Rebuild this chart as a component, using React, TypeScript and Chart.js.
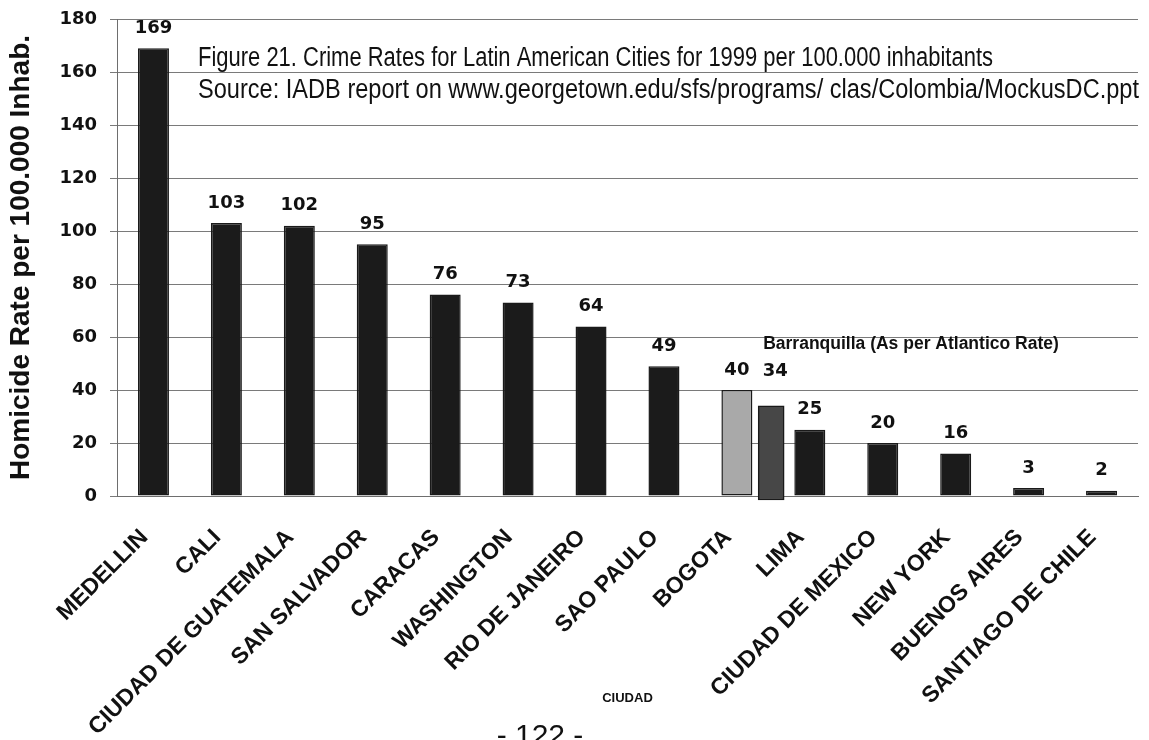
import { useEffect, useRef } from "react";
import { Chart, registerables } from "chart.js";

Chart.register(...registerables);

// Homicide rates per 100.000 inhabitants, 1999
const cities = [
  "MEDELLIN",
  "CALI",
  "CIUDAD DE GUATEMALA",
  "SAN SALVADOR",
  "CARACAS",
  "WASHINGTON",
  "RIO DE JANEIRO",
  "SAO PAULO",
  "BOGOTA",
  "LIMA",
  "CIUDAD DE MEXICO",
  "NEW YORK",
  "BUENOS AIRES",
  "SANTIAGO DE CHILE",
];
const homicideRates = [169, 103, 102, 95, 76, 73, 64, 49, 40, 25, 20, 16, 3, 2];

// Extra bar squeezed in between BOGOTA and LIMA
const barranquillaLabel = "Barranquilla (As per Atlantico Rate)";
const barranquillaRate = 34;
const barranquillaSlot = 8.47; // position on the category index scale
const barranquillaBase = -1.5;

const yMin = 0;
const yMax = 180;
const yStep = 20;

const figureTitle =
  "Figure 21. Crime Rates for Latin American Cities for 1999 per 100.000 inhabitants";
const sourceLine =
  "Source: IADB report on www.georgetown.edu/sfs/programs/ clas/Colombia/MockusDC.ppt";
const pageNumber = "- 122 -";

const SANS = "'Liberation Sans', Arial, Helvetica, sans-serif";
const WIDE = "'DejaVu Sans', 'Liberation Sans', Arial, sans-serif";

const barFill = "#1b1b1b";
const bogotaFill = "#a9a9a9";
const barranquillaFill = "#474747";

const whiteBackground = {
  id: "whiteBackground",
  beforeDraw(chart: any) {
    const { ctx, width, height } = chart;
    ctx.save();
    ctx.fillStyle = "#ffffff";
    ctx.fillRect(0, 0, width, height);
    ctx.restore();
  },
};

const annotations = {
  id: "annotations",
  afterDatasetsDraw(chart: any) {
    const { ctx } = chart;
    ctx.save();
    ctx.fillStyle = "#111111";

    // value labels above each bar
    ctx.font = `bold 18px ${WIDE}`;
    ctx.textAlign = "center";
    ctx.textBaseline = "middle";
    const main = chart.getDatasetMeta(0);
    main.data.forEach((bar: any, i: number) => {
      ctx.fillText(String(homicideRates[i]), bar.x, bar.y - 20);
    });

    // Barranquilla value shares the row of the BOGOTA label
    const bq = chart.getDatasetMeta(1).data[0];
    const bogota = main.data[cities.indexOf("BOGOTA")];
    const rowY = Math.min(bq.y, bogota.y) - 19;
    ctx.fillText(String(barranquillaRate), bq.x + 4, rowY);

    ctx.font = `bold 17.5px ${SANS}`;
    ctx.textAlign = "left";
    ctx.fillText(barranquillaLabel, bq.x - 8, rowY - 27);

    // caption and source, condensed to their line widths
    ctx.textBaseline = "alphabetic";
    ctx.font = `27px ${SANS}`;
    ctx.fillText(figureTitle, 198, 66, 795);
    ctx.fillText(sourceLine, 198, 98, 941);

    // page number at the foot
    ctx.font = `30px ${SANS}`;
    ctx.textAlign = "center";
    ctx.fillText(pageNumber, 540, 745);
    ctx.restore();
  },
};

export default function App() {
  const canvasRef = useRef<HTMLCanvasElement | null>(null);

  useEffect(() => {
    const canvas = canvasRef.current;
    if (!canvas) return;

    const chart = new Chart(canvas, {
      type: "bar",
      data: {
        labels: cities,
        datasets: [
          {
            data: homicideRates,
            xAxisID: "x",
            yAxisID: "y",
            grouped: false,
            backgroundColor: cities.map((c) => (c === "BOGOTA" ? bogotaFill : barFill)),
            borderColor: "#1a1a1a",
            borderWidth: 1.5,
            borderSkipped: false,
            categoryPercentage: 1,
            barPercentage: 0.425,
          },
          {
            data: [{ x: barranquillaSlot, y: [barranquillaBase, barranquillaRate] }] as any,
            xAxisID: "xb",
            yAxisID: "y",
            grouped: false,
            backgroundColor: barranquillaFill,
            borderColor: "#1a1a1a",
            borderWidth: 1.5,
            borderSkipped: false,
            barThickness: 26,
            clip: false as any,
          },
        ],
      },
      options: {
        responsive: false,
        animation: false,
        layout: { padding: { top: 19, right: 11, left: 0, bottom: 0 } },
        plugins: {
          legend: { display: false },
          tooltip: { enabled: false },
        },
        scales: {
          x: {
            type: "category",
            offset: true,
            grid: { display: false },
            border: { display: true, color: "#6e6e6e", width: 1 },
            ticks: {
              autoSkip: false,
              minRotation: 45,
              maxRotation: 45,
              color: "#111111",
              padding: 20,
              labelOffset: -9,
              font: { family: SANS, size: 23, weight: "bold" },
            },
            title: {
              display: true,
              text: "CIUDAD",
              color: "#111111",
              font: { family: SANS, size: 13, weight: "bold", lineHeight: 1.2 },
              padding: { top: 0, bottom: 34 },
            },
            afterFit(scale: any) {
              scale.height = 244;
            },
          },
          xb: {
            type: "linear",
            axis: "x",
            display: false,
            min: -0.5,
            max: 13.5,
            offset: false,
            grid: { offset: false },
          } as any,
          y: {
            min: yMin,
            max: yMax,
            ticks: {
              stepSize: yStep,
              color: "#111111",
              padding: 13,
              font: { family: WIDE, size: 18, weight: "bold" },
            },
            grid: { color: "#7a7a7a", lineWidth: 1, tickLength: 7 },
            border: { display: true, color: "#6e6e6e", width: 1 },
            title: {
              display: true,
              text: "Homicide Rate per 100.000 Inhab.",
              color: "#111111",
              font: { family: SANS, size: 28, weight: "bold", lineHeight: 1.2 },
              padding: { top: 4, bottom: 0 },
            },
            afterFit(scale: any) {
              scale.width = 117;
              scale.paddingTop = 0;
              scale.paddingBottom = 0;
            },
          },
        },
      },
      plugins: [whiteBackground, annotations],
    });

    return () => chart.destroy();
  }, []);

  return (
    <div style={{ position: "absolute", left: 0, top: 0, width: 1149, height: 740 }}>
      <canvas ref={canvasRef} width={1149} height={740} />
    </div>
  );
}
